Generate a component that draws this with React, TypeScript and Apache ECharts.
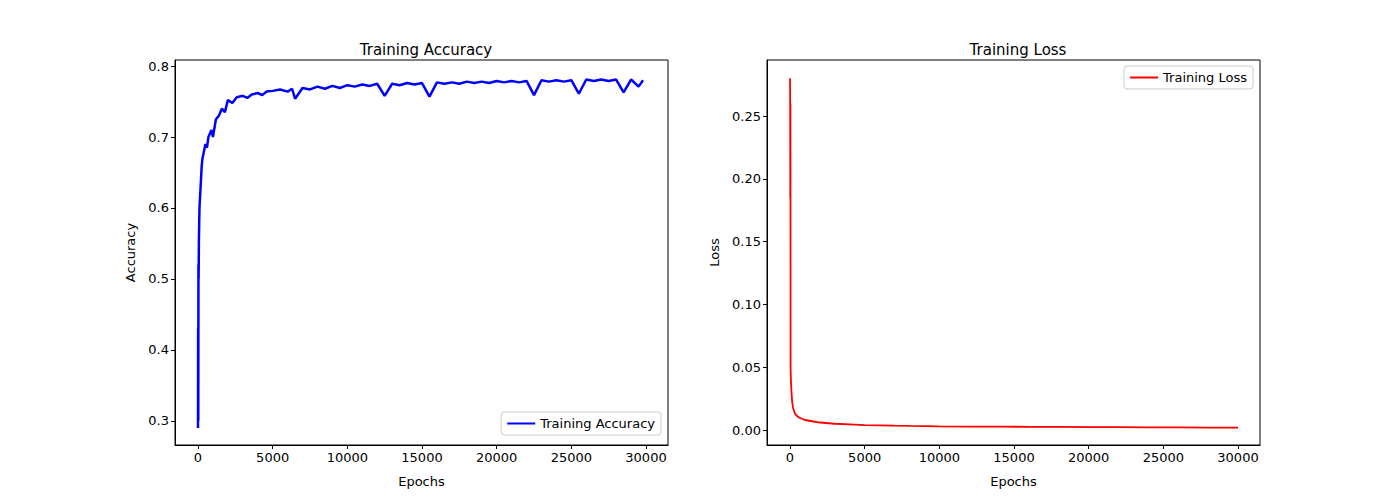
import React, { useEffect, useRef } from "react";
import * as echarts from "echarts";

const accEpochs = [0, 10, 20, 30, 40, 60, 80, 100, 150, 200, 250, 300, 400, 500, 600, 700, 800, 900, 1000, 1200, 1400, 1600, 1800, 2000, 2300, 2600, 3000, 3300, 3600, 4000, 4300, 4600, 5000, 5500, 6000, 6300, 6500, 7000, 7500, 8000, 8500, 9000, 9500, 10000, 10500, 11000, 11500, 12000, 12500, 13000, 13500, 14000, 14500, 15000, 15500, 16000, 16500, 17000, 17500, 18000, 18500, 19000, 19500, 20000, 20500, 21000, 21500, 22000, 22500, 23000, 23500, 24000, 24500, 25000, 25500, 26000, 26500, 27000, 27500, 28000, 28500, 29000, 29500, 29800, 30000];
const accValues = [0.29, 0.43, 0.3, 0.52, 0.5, 0.55, 0.58, 0.6, 0.62, 0.64, 0.66, 0.67, 0.68, 0.69, 0.685, 0.7, 0.705, 0.71, 0.7, 0.725, 0.73, 0.74, 0.735,
  0.752, 0.748, 0.756, 0.758, 0.755, 0.76, 0.762, 0.759, 0.764, 0.765,
  0.767, 0.764, 0.768, 0.754, 0.769, 0.767, 0.771, 0.768, 0.772, 0.769,
  0.773, 0.771, 0.774, 0.772, 0.775, 0.758, 0.775, 0.773, 0.776, 0.774,
  0.776, 0.757, 0.777, 0.775, 0.777, 0.775, 0.778, 0.776, 0.778, 0.776,
  0.779, 0.777, 0.779, 0.777, 0.779, 0.759, 0.78, 0.778, 0.78, 0.778,
  0.78, 0.761, 0.781, 0.779, 0.781, 0.779, 0.781, 0.763,
  0.781, 0.771, 0.78];

const lossEpochs = [0, 10, 20, 30, 40, 60, 100, 150, 200, 300, 400, 600, 800, 1000, 1500, 2000, 3000, 4000, 5000, 6000, 7000, 8000, 10000, 12000, 14000, 16000, 18000, 20000, 22000, 24000, 26000, 28000, 30000];
const lossValues = [0.28, 0.27, 0.185, 0.26, 0.05, 0.04, 0.03, 0.022, 0.018, 0.014, 0.012, 0.01, 0.009, 0.008, 0.007, 0.006, 0.005, 0.0045, 0.004, 0.0038, 0.0035, 0.0033, 0.003, 0.0028, 0.0027, 0.0026, 0.0025, 0.0024, 0.0023, 0.0022, 0.0021, 0.002, 0.002];

const xTicks = [0, 5000, 10000, 15000, 20000, 25000, 30000];
const accTicks = [0.3, 0.4, 0.5, 0.6, 0.7, 0.8];
const lossTicks = [0, 0.05, 0.1, 0.15, 0.2, 0.25];

const font = "DejaVu Sans";

const xAxisFor = (gridIndex: number) => ({
  type: "value",
  gridIndex,
  min: -1540,
  max: 31473,
  name: "Epochs",
  nameLocation: "middle",
  nameGap: 30,
  nameTextStyle: { fontFamily: font, fontSize: 13, color: "#000" },
  splitLine: { show: false },
  axisLine: { show: true, onZero: false, lineStyle: { color: "#000" } },
  axisTick: { show: true, inside: false, customValues: xTicks, length: 4, lineStyle: { color: "#000" } },
  axisLabel: { customValues: xTicks, fontFamily: font, fontSize: 13, color: "#000", margin: 6, formatter: (v: number) => String(v) },
});

const yAxisFor = (gridIndex: number, min: number, max: number, ticks: number[], name: string, digits: number, gap: number) => ({
  type: "value",
  gridIndex,
  min,
  max,
  name,
  nameLocation: "middle",
  nameGap: gap,
  nameTextStyle: { fontFamily: font, fontSize: 13, color: "#000" },
  splitLine: { show: false },
  axisLine: { show: true, onZero: false, lineStyle: { color: "#000" } },
  axisTick: { show: true, inside: false, customValues: ticks, length: 4, lineStyle: { color: "#000" } },
  axisLabel: {
    customValues: ticks,
    fontFamily: font,
    fontSize: 13,
    color: "#000",
    margin: 6,
    formatter: (v: number) => v.toFixed(digits),
  },
});

const App = () => {
  const chartRef = useRef<HTMLDivElement>(null);

  useEffect(() => {
    if (!chartRef.current) return;
    const myChart = echarts.init(chartRef.current, null, { renderer: "svg" });
    const legendBox = {
      backgroundColor: "#fff",
      borderColor: "#ccc",
      borderWidth: 1,
      borderRadius: 3,
      padding: [5, 6],
      icon: "rect",
      itemWidth: 28,
      itemHeight: 2,
      textStyle: { fontFamily: font, fontSize: 13, color: "#000" },
    };
    const option = {
      animation: false,
      backgroundColor: "#fff",
      title: [
        { text: "Training Accuracy", left: 421, top: 37, textAlign: "center", textStyle: { fontFamily: font, fontSize: 15, fontWeight: "normal", color: "#000" } },
        { text: "Training Loss", left: 1013, top: 37, textAlign: "center", textStyle: { fontFamily: font, fontSize: 15, fontWeight: "normal", color: "#000" } },
      ],
      legend: [
        { ...legendBox, data: ["Training Accuracy"], right: 739, top: 412 },
        { ...legendBox, data: ["Training Loss"], right: 147, top: 66 },
      ],
      grid: [
        { left: 175, top: 60, width: 493, height: 385, show: true, borderColor: "#000", borderWidth: 1 },
        { left: 767, top: 60, width: 493, height: 385, show: true, borderColor: "#000", borderWidth: 1 },
      ],
      xAxis: [xAxisFor(0), xAxisFor(1)],
      yAxis: [
        yAxisFor(0, 0.266, 0.8085, accTicks, "Accuracy", 1, 38),
        yAxisFor(1, -0.0119, 0.2946, lossTicks, "Loss", 2, 46),
      ],
      series: [
        {
          name: "Training Accuracy",
          type: "line",
          xAxisIndex: 0,
          yAxisIndex: 0,
          showSymbol: false,
          color: "#0000ff",
          lineStyle: { width: 2.5, color: "#0000ff" },
          data: accEpochs.map((e, i) => [e, accValues[i]]),
        },
        {
          name: "Training Loss",
          type: "line",
          xAxisIndex: 1,
          yAxisIndex: 1,
          showSymbol: false,
          color: "#ff0000",
          lineStyle: { width: 1.8, color: "#ff0000" },
          data: lossEpochs.map((e, i) => [e, lossValues[i]]),
        },
      ],
    };
    myChart.setOption(option);
    return () => {
      myChart.dispose();
    };
  }, []);

  return <div ref={chartRef} style={{ position: "fixed", left: 0, top: 0, width: 1400, height: 500 }} />;
};

export default App;
